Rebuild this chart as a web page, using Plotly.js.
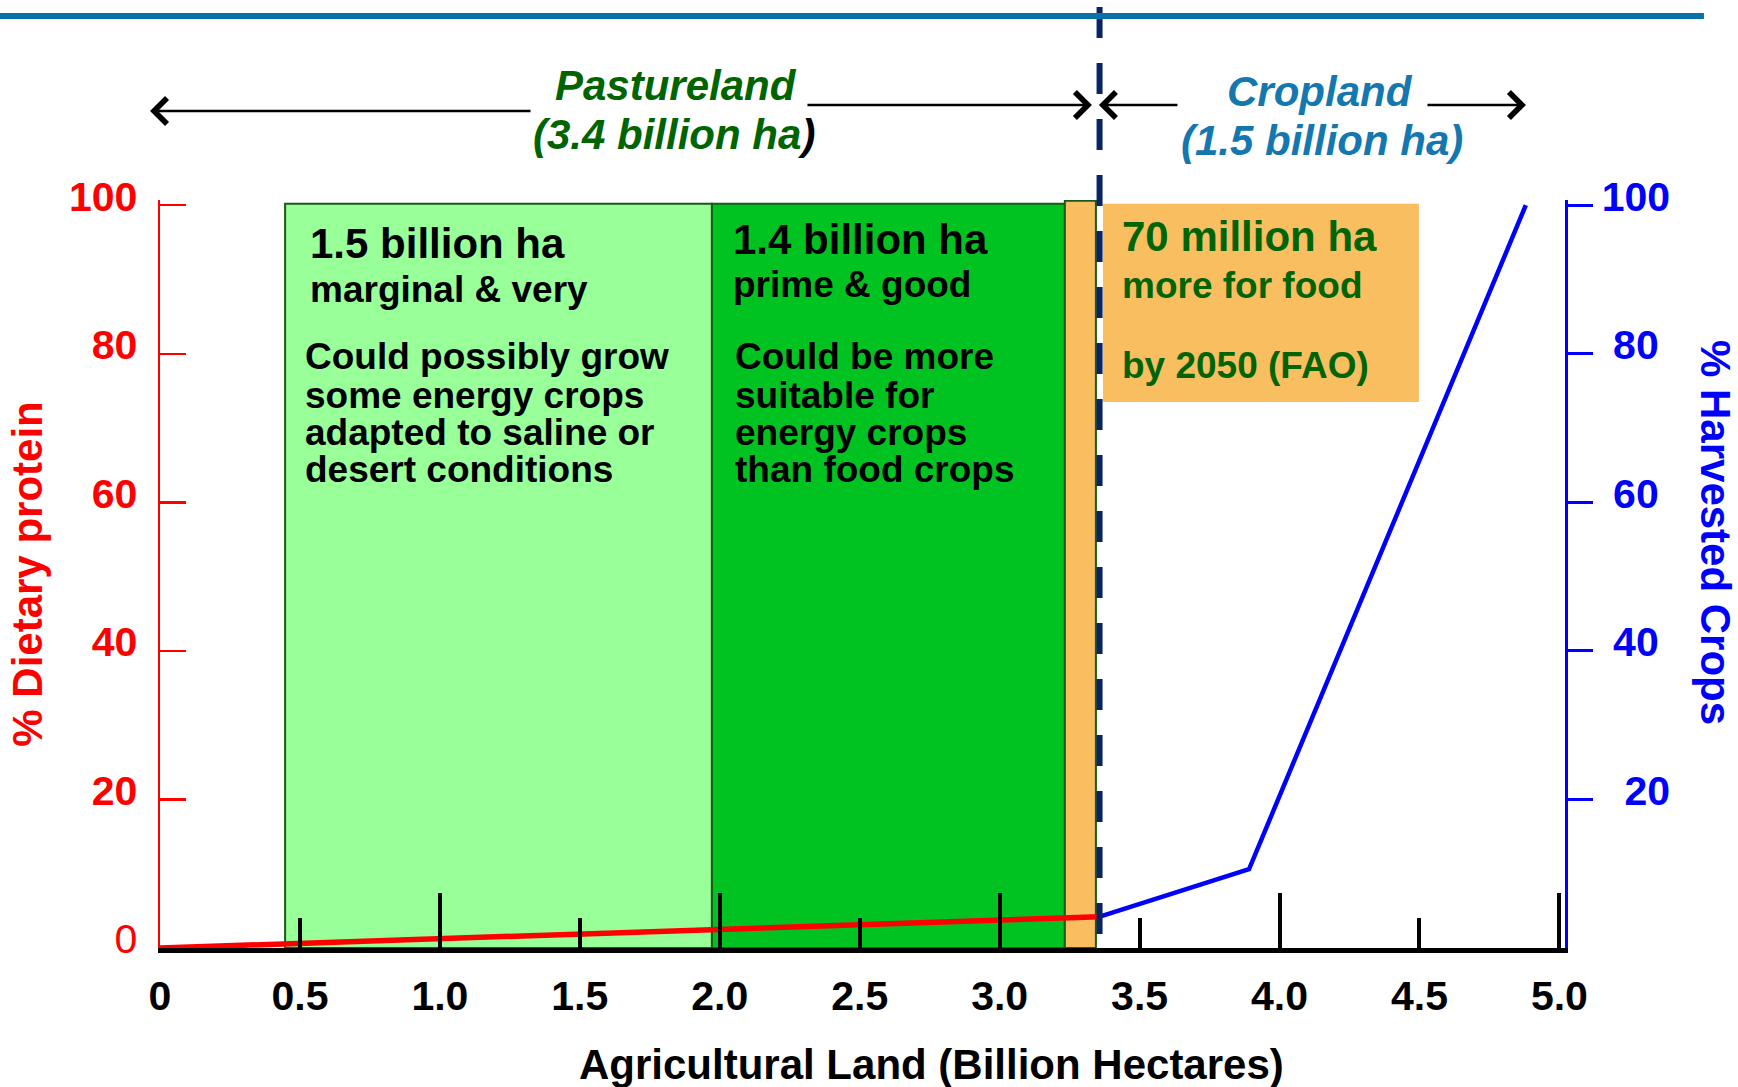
<!DOCTYPE html>
<html><head><meta charset="utf-8">
<script src="https://cdn.plot.ly/plotly-3.0.1.min.js"></script>
<style>html,body{margin:0;padding:0;background:#fff}#chart{width:1738px;height:1087px}</style>
</head><body><div id="chart"></div>
<script>
// ---------------- data ----------------
const proteinLand = [0, 3.355];          // billion ha
const proteinPct = [0, 4.2];             // % dietary protein
const cropLand = [3.355, 3.891, 4.88];   // billion ha
const cropPct = [4.2, 10.6, 100];        // % harvested crops
const marginalLand = [0.447, 1.972];     // 1.5 billion ha marginal & very
const primeLand = [1.972, 3.233];        // 1.4 billion ha prime & good
const extraFoodLand = [3.233, 3.344];    // 70 million ha more for food
const pastureCropBoundary = 3.357;
const xMajorTicks = [1, 2, 3, 4, 5];
const xMinorTicks = [0.5, 1.5, 2.5, 3.5, 4.5];
const xLabelVals = [0, 0.5, 1, 1.5, 2, 2.5, 3, 3.5, 4, 4.5, 5];
const xLabelText = ['0', '0.5', '1.0', '1.5', '2.0', '2.5', '3.0', '3.5', '4.0', '4.5', '5.0'];
const leftTickVals = [0, 20, 40, 60, 80, 100];
const leftTickText = ['0', '<b>20</b>', '<b>40</b>', '<b>60</b>', '<b>80</b>', '<b>100</b>'];
const rightTickVals = [20, 40, 60, 80, 100];
const rightTickText = ['<b>\u00a0\u00a020</b>', '<b>\u00a040</b>', '<b>\u00a060</b>', '<b>\u00a080</b>', '<b>100</b>'];
const marginalText = ['Could possibly grow', 'some energy crops', 'adapted to saline or', 'desert conditions'];
const primeText = ['Could be more', 'suitable for', 'energy crops', 'than food crops'];

// ---------------- styles ----------------
const FONT = 'Liberation Sans, Arial, Helvetica, sans-serif';
const RED = '#ff0000', BLUE = '#0000ff', DKGREEN = '#006400', TEAL = '#1477b0';
const X_RANGE = [0, 5.02], Y_RANGE = [0, 100.7];

const traces = [
  {x: proteinLand, y: proteinPct, xaxis: 'x', yaxis: 'y', type: 'scatter', mode: 'lines',
   line: {color: RED, width: 5.5}, hoverinfo: 'skip'},
  {x: cropLand, y: cropPct, xaxis: 'x2', yaxis: 'y2', type: 'scatter', mode: 'lines',
   line: {color: BLUE, width: 4.5}, hoverinfo: 'skip'}
];

function label(x, y, text, size, color, xref, yref, extra) {
  return Object.assign({x: x, y: y, xref: xref || 'x', yref: yref || 'y', text: text, showarrow: false,
    xanchor: 'left', yanchor: 'middle', font: {family: FONT, size: size, color: color}}, extra || {});
}
function arrow(x, y, ax) {
  return {x: x, y: y, xref: 'paper', yref: 'paper', ax: ax, ay: 0, axref: 'pixel', ayref: 'pixel',
    text: '', showarrow: true, arrowhead: 4, arrowsize: 2, arrowwidth: 2.5, arrowcolor: '#000', standoff: 0};
}

const annotations = [];
// region texts
const bodyY = [79.6, 74.4, 69.4, 64.4];
annotations.push(label(0.529, 94.8, '<b>1.5 billion ha</b>', 42, '#000'));
annotations.push(label(0.529, 88.6, '<b>marginal &amp; very</b>', 37, '#000'));
marginalText.forEach((t, i) => annotations.push(label(0.512, bodyY[i], '<b>' + t + '</b>', 37, '#000')));
annotations.push(label(2.041, 95.4, '<b>1.4 billion ha</b>', 42, '#000'));
annotations.push(label(2.041, 89.3, '<b>prime &amp; good</b>', 37, '#000'));
primeText.forEach((t, i) => annotations.push(label(2.048, bodyY[i], '<b>' + t + '</b>', 37, '#000')));
annotations.push(label(3.43, 95.8, '<b>70 million ha</b>', 42, DKGREEN));
annotations.push(label(3.43, 89.2, '<b>more for food</b>', 37, DKGREEN));
annotations.push(label(3.43, 78.4, '<b>by 2050 (FAO)</b>', 37, DKGREEN));
// top headings
annotations.push(label(0.3673, 1.1537, '<i><b>Pastureland</b></i>', 42, DKGREEN, 'paper', 'paper', {xanchor: 'center'}));
annotations.push(label(0.3658, 1.0869, '<i><b>(3.4 billion ha<span style="color:#000">)</span></b></i>', 42, DKGREEN, 'paper', 'paper', {xanchor: 'center'}));
annotations.push(label(0.8256, 1.1457, '<i><b>Cropland</b></i>', 42, TEAL, 'paper', 'paper', {xanchor: 'center'}));
annotations.push(label(0.8270, 1.0802, '<i><b>(1.5 billion ha)</b></i>', 42, TEAL, 'paper', 'paper', {xanchor: 'center'}));
// arrows
annotations.push(arrow(-0.0071, 1.1190, 382));
annotations.push(arrow(0.6633, 1.1270, -286));
annotations.push(arrow(0.6683, 1.1270, 80));
annotations.push(arrow(0.9722, 1.1270, -100));
// axis titles drawn as annotations
annotations.push(label(0.5488, -0.1551, '<b>Agricultural Land (Billion Hectares)</b>', 42, '#000', 'paper', 'paper', {xanchor: 'center'}));
annotations.push(label(1.1075, 0.5561, '<b>% Harvested Crops</b>', 42, BLUE, 'paper', 'paper', {xanchor: 'center', textangle: 90}));

const shapes = [
  {type: 'rect', xref: 'x', yref: 'y', x0: marginalLand[0], x1: marginalLand[1], y0: 0, y1: 100.2,
   fillcolor: '#99ff99', line: {color: '#1a5a1a', width: 2}, layer: 'below'},
  {type: 'rect', xref: 'x', yref: 'y', x0: primeLand[0], x1: primeLand[1], y0: 0, y1: 100.2,
   fillcolor: '#00c322', line: {color: '#1a5a1a', width: 2}, layer: 'below'},
  {type: 'rect', xref: 'x', yref: 'y', x0: extraFoodLand[0], x1: extraFoodLand[1], y0: 0, y1: 100.6,
   fillcolor: '#f9be60', line: {color: '#1a5a1a', width: 2}, layer: 'below'},
  {type: 'rect', xref: 'x', yref: 'y', x0: 3.369, x1: 4.498, y0: 73.5, y1: 100.2,
   fillcolor: '#f9be60', line: {width: 0}, layer: 'below'},
  {type: 'line', xref: 'x', yref: 'paper', x0: pastureCropBoundary, x1: pastureCropBoundary, y0: 1.258, y1: 0,
   line: {color: '#0a2463', width: 6, dash: '31px,25px'}, layer: 'above'},
  {type: 'line', xref: 'paper', yref: 'paper', x0: -0.1139, x1: 1.0989, y0: 1.246, y1: 1.246,
   line: {color: '#0a70a8', width: 6}, layer: 'above'}
];

const layout = {
  width: 1738, height: 1087,
  margin: {l: 160, r: 173, t: 200, b: 139, pad: 0},
  paper_bgcolor: '#ffffff', plot_bgcolor: 'rgba(0,0,0,0)',
  showlegend: false,
  font: {family: FONT, size: 40, color: '#000'},
  xaxis: {
    range: X_RANGE, showgrid: false, zeroline: false,
    showline: true, linecolor: '#000', linewidth: 5,
    tickmode: 'array', tickvals: xLabelVals, ticktext: xLabelText, ticks: '',
    tickfont: {family: FONT, size: 41, color: '#000', weight: 'bold'},
    ticklabelstandoff: 8
  },
  xaxis2: {
    overlaying: 'x', anchor: 'y2', side: 'bottom', range: X_RANGE,
    showgrid: false, zeroline: false, showline: false, showticklabels: false,
    tickmode: 'array', tickvals: xMajorTicks,
    ticks: 'inside', ticklen: 55, tickwidth: 4, tickcolor: '#000',
    minor: {tickmode: 'array', tickvals: xMinorTicks, ticks: 'inside', ticklen: 30, tickwidth: 4, tickcolor: '#000', showgrid: false}
  },
  yaxis: {
    range: Y_RANGE, showgrid: false, zeroline: false,
    showline: true, linecolor: RED, linewidth: 2.5,
    tickmode: 'array', tickvals: leftTickVals, ticktext: leftTickText,
    ticks: 'inside', ticklen: 26, tickwidth: 2.5, tickcolor: RED,
    tickfont: {family: FONT, size: 41, color: RED},
    ticklabelstandoff: 12, ticklabelshift: -9,
    title: {text: '<b>% Dietary protein</b>', font: {family: FONT, size: 42, color: RED}, standoff: 13}
  },
  yaxis2: {
    overlaying: 'y', side: 'right', anchor: 'x2', range: Y_RANGE, showgrid: false, zeroline: false,
    showline: true, linecolor: BLUE, linewidth: 2.5,
    tickmode: 'array', tickvals: rightTickVals, ticktext: rightTickText,
    ticks: 'outside', ticklen: 25, tickwidth: 3, tickcolor: BLUE,
    tickfont: {family: FONT, size: 41, color: BLUE},
    ticklabelstandoff: 1, ticklabelshift: -9
  },
  shapes: shapes,
  annotations: annotations
};

Plotly.newPlot('chart', traces, layout, {staticPlot: true, displayModeBar: false});
</script>
</body></html>
